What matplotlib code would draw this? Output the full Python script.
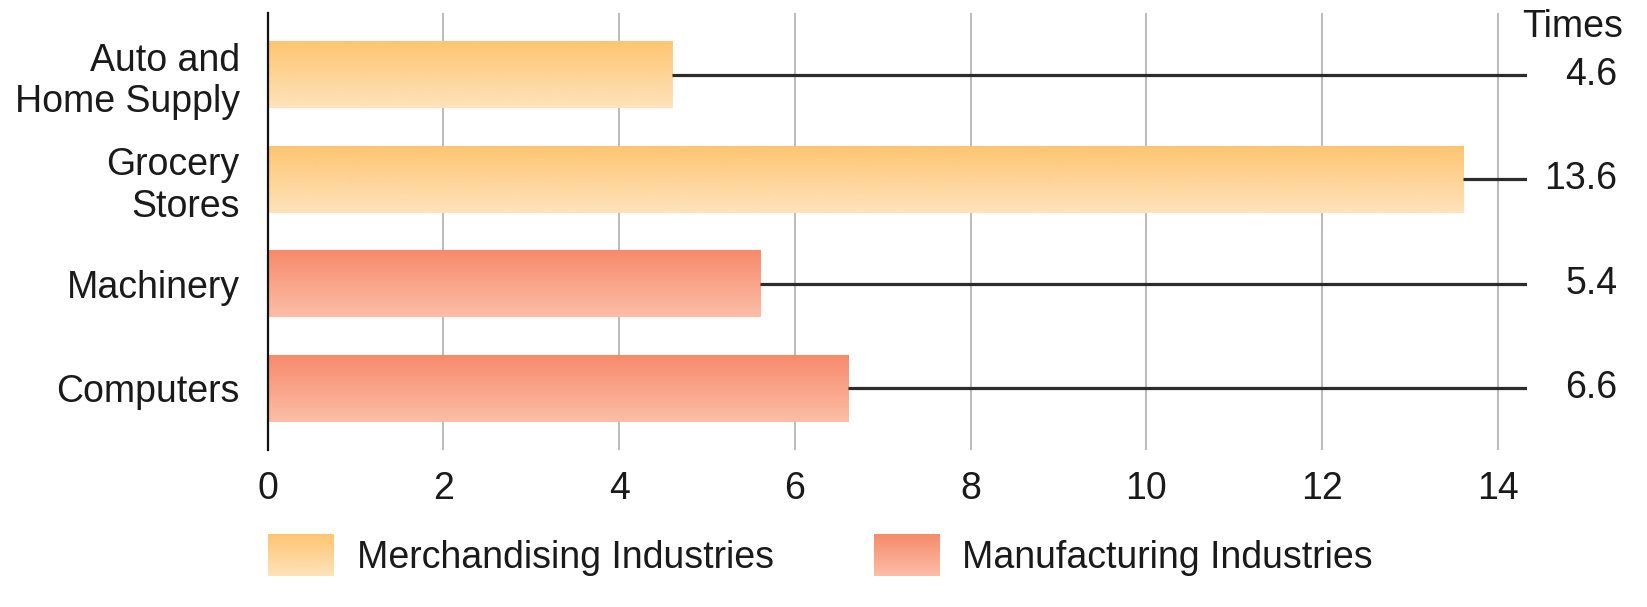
import numpy as np
import matplotlib
matplotlib.use('Agg')
import matplotlib.pyplot as plt
from matplotlib.colors import LinearSegmentedColormap

# dane
categories = ['Auto and\nHome Supply', 'Grocery\nStores', 'Machinery', 'Computers']
bar_values = [4.6, 13.6, 5.6, 6.6]
value_labels = ['4.6', '13.6', '5.4', '6.6']
groups = ['merch', 'merch', 'manuf', 'manuf']
group_names = {'merch': 'Merchandising Industries', 'manuf': 'Manufacturing Industries'}
x_ticks = [0, 2, 4, 6, 8, 10, 12, 14]

# kolory gradientu (gora -> dol)
grad_colors = {
    'merch': ('#fec571', '#fee3bb'),
    'manuf': ('#f78a6b', '#fcbea8'),
}

plt.rcParams['font.family'] = ['Liberation Sans', 'DejaVu Sans']
FS = 27

W, H = 1647, 607
fig = plt.figure(figsize=(W / 100, H / 100), dpi=100)

x_max = 14.33
left_px, right_px, top_px, bot_px = 267.5, 1527, 13, 450
ax = fig.add_axes([left_px / W, 1 - bot_px / H, (right_px - left_px) / W, (bot_px - top_px) / H])

bar_h = 0.64
grad = np.linspace(0, 1, 256).reshape(-1, 1)
for i, (v, g) in enumerate(zip(bar_values, groups)):
    cmap = LinearSegmentedColormap.from_list(g, grad_colors[g])
    ax.imshow(grad, cmap=cmap, aspect='auto', interpolation='bilinear',
              extent=[0, v, i + bar_h / 2, i - bar_h / 2], zorder=2)
    # linia prowadzaca do etykiety
    ax.hlines(i, v, x_max, color='#2b2b2b', lw=2.3, zorder=3)
    ax.text(15.36, i, value_labels[i], ha='right', va='center', fontsize=FS,
            color='#1a1a1a', clip_on=False)

ax.text(15.42, -0.46, 'Times', ha='right', va='center', fontsize=FS, color='#1a1a1a', clip_on=False)

ax.set_xlim(0, x_max)
ax.set_ylim(3.59, -0.59)

for x in x_ticks[1:]:
    ax.axvline(x, color='#a8a8a8', lw=1.1, zorder=1)

ax.set_xticks(x_ticks)
ax.set_xticklabels([str(t) for t in x_ticks], fontsize=FS, color='#1a1a1a')
ax.set_yticks(range(len(categories)))
ax.set_yticklabels(categories, fontsize=FS, color='#1a1a1a', linespacing=1.2)
ax.tick_params(axis='x', length=0, pad=15)
ax.tick_params(axis='y', length=0, pad=20)
for s in ['top', 'right', 'bottom']:
    ax.spines[s].set_visible(False)
ax.spines['left'].set_color('#111111')
ax.spines['left'].set_linewidth(1.6)
ax.spines['left'].set_zorder(4)

# legenda z gradientowymi kwadratami
legend_items = [('merch', 268, 357), ('manuf', 874, 962)]
sw_top, sw_bot = 534, 576
for g, sx, tx in legend_items:
    lax = fig.add_axes([sx / W, 1 - sw_bot / H, 66 / W, (sw_bot - sw_top) / H])
    cmap = LinearSegmentedColormap.from_list(g + '_leg', grad_colors[g])
    lax.imshow(grad, cmap=cmap, aspect='auto', interpolation='bilinear')
    lax.axis('off')
    fig.text(tx / W, 1 - ((sw_top + sw_bot) / 2 + 3) / H, group_names[g], ha='left', va='center',
             fontsize=FS, color='#1a1a1a')

plt.savefig('out.png', dpi=100)
